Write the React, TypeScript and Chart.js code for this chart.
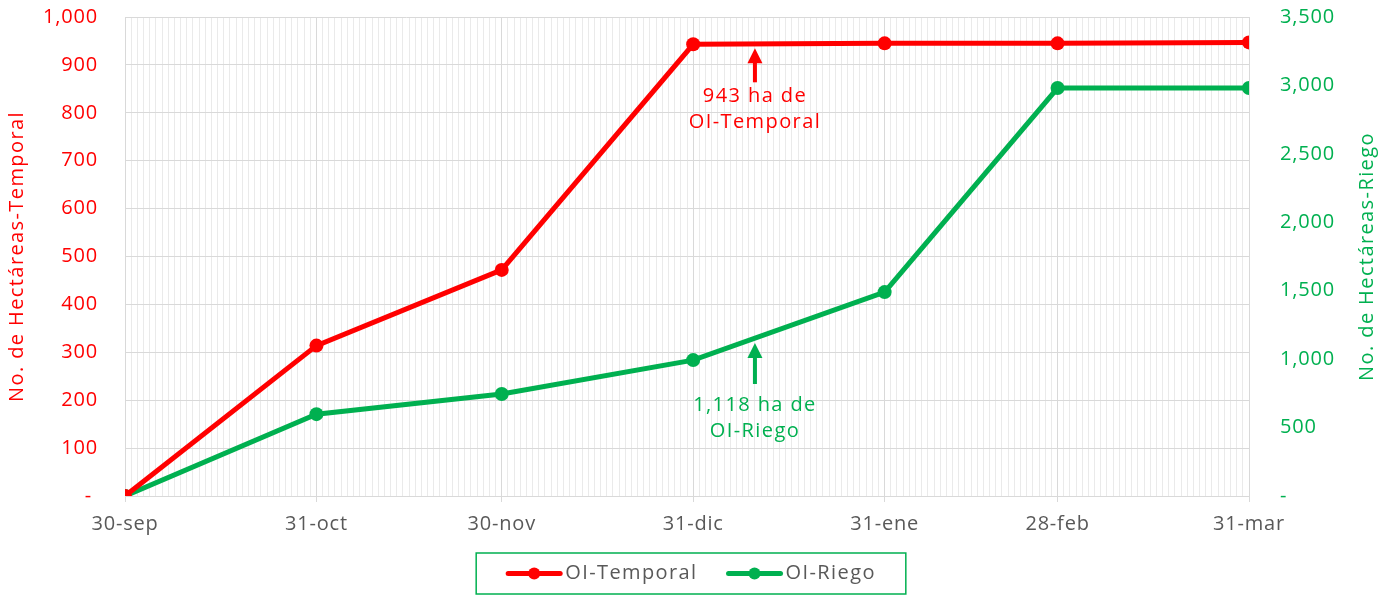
import React, { useEffect, useRef } from 'react';
import { Chart, registerables } from 'chart.js';

Chart.register(...registerables);

// ---- Data ----
const categories = ['30-sep', '31-oct', '30-nov', '31-dic', '31-ene', '28-feb', '31-mar'];
const categoryDays = [0, 31, 61, 92, 123, 151, 182];
const temporalValues = [0, 314, 472, 943, 945, 945, 947];
const riegoValues = [0, 598, 745, 993, 1490, 2981, 2981];
const leftAxisMax = 1000;
const leftAxisStep = 100;
const rightAxisMax = 3500;
const rightAxisStep = 500;
const seriesNames = ['OI-Temporal', 'OI-Riego'];
const axisTitles = ['No. de Hectáreas-Temporal', 'No. de Hectáreas-Riego'];
const annotationDays = [102, 102];
const annotationValues = [943, 1118];
const annotationTexts = [['943 ha de', 'OI-Temporal'], ['1,118 ha de', 'OI-Riego']];

// ---- Styles ----
const RED = '#ff0000';
const GREEN = '#00b050';
const GREY = '#595959';
const FONT = "'Open Sans', 'Noto Sans', sans-serif";
const TICK_SPACING = '0.8px';
const TEXT_SPACING = '1.4px';
const annotationStyle = [
  { axis: 'y', color: RED, tipOffset: 4, arrowLen: 34, textGap: 48 },
  { axis: 'y1', color: GREEN, tipOffset: 0, arrowLen: 41, textGap: 62 },
];

const allDays: number[] = [];
for (let d = 0; d <= categoryDays[categoryDays.length - 1]; d++) allDays.push(d);

const fmtLeft = (v: number) => (v === 0 ? '- ' : v.toLocaleString('en-US'));
const fmtRight = (v: number) => (v === 0 ? '-' : v.toLocaleString('en-US'));

const spacingPlugin = {
  id: 'letterSpacing',
  beforeUpdate(chart: any) {
    (chart.ctx as any).letterSpacing = TICK_SPACING;
  },
  beforeLayout(chart: any) {
    (chart.ctx as any).letterSpacing = TICK_SPACING;
  },
  beforeDraw(chart: any) {
    (chart.ctx as any).letterSpacing = TICK_SPACING;
  },
};

const titlesPlugin = {
  id: 'axisTitlesUp',
  afterDraw(chart: any) {
    const ctx = chart.ctx;
    const ca = chart.chartArea;
    const midY = (ca.top + ca.bottom) / 2;
    const items = [
      { x: 17, text: axisTitles[0], color: RED },
      { x: 1367, text: axisTitles[1], color: GREEN },
    ];
    items.forEach((it) => {
      ctx.save();
      (ctx as any).letterSpacing = TEXT_SPACING;
      ctx.translate(it.x, midY);
      ctx.rotate(-Math.PI / 2);
      ctx.font = `20px ${FONT}`;
      ctx.fillStyle = it.color;
      ctx.textAlign = 'center';
      ctx.textBaseline = 'middle';
      ctx.fillText(it.text, 0, 0);
      ctx.restore();
    });
  },
};

const annotationPlugin = {
  id: 'arrowNotes',
  afterDatasetsDraw(chart: any) {
    const ctx = chart.ctx;
    const xs = chart.scales.x;
    annotationDays.forEach((day, i) => {
      const st = annotationStyle[i];
      const ys = chart.scales[st.axis];
      const x = xs.getPixelForValue(day);
      const tip = ys.getPixelForValue(annotationValues[i]) + st.tipOffset;
      ctx.save();
      (ctx as any).letterSpacing = TEXT_SPACING;
      ctx.fillStyle = st.color;
      ctx.beginPath();
      ctx.moveTo(x, tip);
      ctx.lineTo(x - 7.5, tip + 15);
      ctx.lineTo(x + 7.5, tip + 15);
      ctx.closePath();
      ctx.fill();
      ctx.fillRect(x - 2, tip + 14, 4, st.arrowLen - 14);
      ctx.font = `20px ${FONT}`;
      ctx.textAlign = 'center';
      ctx.textBaseline = 'middle';
      annotationTexts[i].forEach((t, j) => {
        ctx.fillText(t, x, tip + st.textGap + j * 26);
      });
      ctx.restore();
    });
  },
};

const legendPlugin = {
  id: 'boxedLegend',
  afterDraw(chart: any) {
    const ctx = chart.ctx;
    ctx.save();
    (ctx as any).letterSpacing = TEXT_SPACING;
    ctx.font = `20px ${FONT}`;
    const lineLen = 56;
    const gap = 3;
    const itemGap = 29;
    const padX = 30;
    const widths = seriesNames.map((n) => ctx.measureText(n).width);
    const total = widths.reduce((a, w) => a + lineLen + gap + w, 0) + itemGap * (seriesNames.length - 1);
    const cx = chart.width / 2 - 2;
    const boxTop = 553;
    const boxH = 41;
    const boxLeft = cx - total / 2 - padX;
    ctx.strokeStyle = GREEN;
    ctx.lineWidth = 1.5;
    ctx.strokeRect(boxLeft, boxTop, total + padX * 2, boxH);
    let x = cx - total / 2;
    const yMid = boxTop + boxH / 2;
    const colors = [RED, GREEN];
    seriesNames.forEach((n, i) => {
      ctx.strokeStyle = colors[i];
      ctx.fillStyle = colors[i];
      ctx.lineWidth = 5;
      ctx.lineCap = 'round';
      ctx.beginPath();
      ctx.moveTo(x + 2, yMid);
      ctx.lineTo(x + lineLen - 2, yMid);
      ctx.stroke();
      ctx.beginPath();
      ctx.arc(x + lineLen / 2, yMid, 6, 0, Math.PI * 2);
      ctx.fill();
      ctx.fillStyle = GREY;
      ctx.textAlign = 'left';
      ctx.textBaseline = 'middle';
      ctx.fillText(n, x + lineLen + gap, yMid);
      x += lineLen + gap + widths[i] + itemGap;
    });
    ctx.restore();
  },
};

export default function App() {
  const canvasRef = useRef<HTMLCanvasElement | null>(null);

  useEffect(() => {
    document.body.style.margin = '0';
    const canvas = canvasRef.current;
    if (!canvas) return;
    const chart = new Chart(canvas, {
      type: 'line',
      data: {
        datasets: [
          {
            label: seriesNames[0],
            data: categoryDays.map((d, i) => ({ x: d, y: temporalValues[i] })),
            borderColor: RED,
            backgroundColor: RED,
            borderWidth: 5,
            pointRadius: 7,
            pointBorderWidth: 0,
            pointBackgroundColor: RED,
            yAxisID: 'y',
            order: 1,
          },
          {
            label: seriesNames[1],
            data: categoryDays.map((d, i) => ({ x: d, y: riegoValues[i] })),
            borderColor: GREEN,
            backgroundColor: GREEN,
            borderWidth: 5,
            pointRadius: 7,
            pointBorderWidth: 0,
            pointBackgroundColor: GREEN,
            yAxisID: 'y1',
            order: 2,
          },
        ],
      },
      options: {
        animation: false,
        responsive: true,
        maintainAspectRatio: false,
        layout: { padding: { top: 17, bottom: 0, left: 0, right: 0 } },
        plugins: {
          legend: { display: false },
          tooltip: { enabled: false },
        },
        scales: {
          x: {
            type: 'linear',
            min: 0,
            max: categoryDays[categoryDays.length - 1],
            afterBuildTicks: (scale: any) => {
              scale.ticks = allDays.map((d) => ({ value: d }));
            },
            afterFit: (scale: any) => {
              scale.height = 100;
            },
            ticks: {
              autoSkip: false,
              maxRotation: 0,
              minRotation: 0,
              padding: 10,
              color: GREY,
              font: { family: FONT, size: 20 },
              callback: (v: any) => {
                const idx = categoryDays.indexOf(v);
                return idx >= 0 ? categories[idx] : '';
              },
            },
            grid: {
              color: (c: any) => (c.tick && categoryDays.includes(c.tick.value) ? '#d9d9d9' : '#eaeaea'),
              tickColor: (c: any) => (c.tick && categoryDays.includes(c.tick.value) ? '#d9d9d9' : 'rgba(0,0,0,0)'),
              tickLength: 6,
              lineWidth: 1,
            },
            border: { color: '#d9d9d9' },
          },
          y: {
            type: 'linear',
            position: 'left',
            min: 0,
            max: leftAxisMax,
            afterFit: (scale: any) => {
              scale.width = 125;
              scale.paddingTop = 0;
              scale.paddingBottom = 0;
            },
            ticks: {
              stepSize: leftAxisStep,
              padding: 27,
              color: RED,
              font: { family: FONT, size: 20 },
              callback: (v: any) => fmtLeft(v),
            },
            grid: { color: '#d9d9d9', drawTicks: false },
            border: { color: '#d9d9d9' },
          },
          y1: {
            type: 'linear',
            position: 'right',
            min: 0,
            max: rightAxisMax,
            afterFit: (scale: any) => {
              scale.width = 137;
              scale.paddingTop = 0;
              scale.paddingBottom = 0;
            },
            ticks: {
              stepSize: rightAxisStep,
              padding: 31,
              color: GREEN,
              font: { family: FONT, size: 20 },
              callback: (v: any) => fmtRight(v),
            },
            grid: { drawOnChartArea: false, drawTicks: false },
            border: { color: '#d9d9d9' },
          },
        },
      } as any,
      plugins: [spacingPlugin, annotationPlugin, titlesPlugin, legendPlugin],
    });
    return () => chart.destroy();
  }, []);

  return (
    <div style={{ position: 'relative', width: 1386, height: 596 }}>
      <canvas ref={canvasRef} />
    </div>
  );
}
